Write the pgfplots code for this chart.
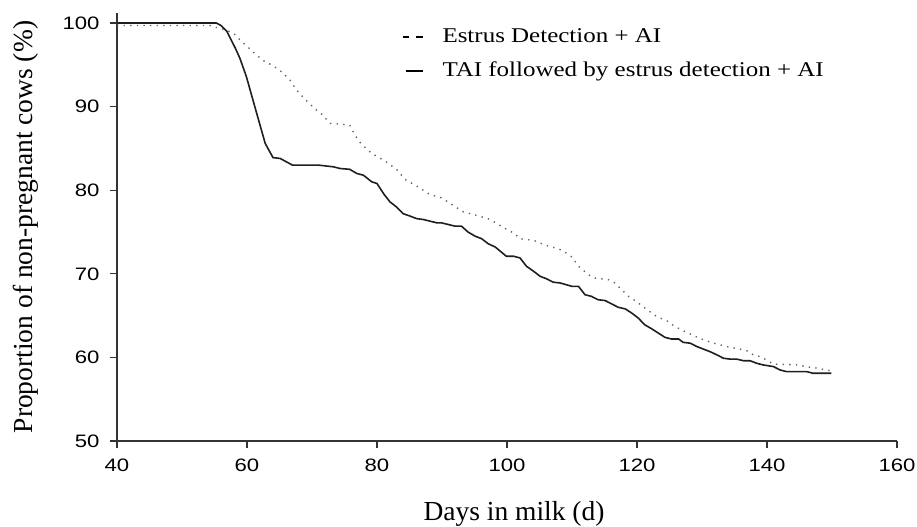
\documentclass[border=0pt]{standalone}
\usepackage{fontspec}
\setmainfont{Liberation Serif}
\newfontfamily\tickfont[FakeStretch=1.23]{Liberation Sans}
\newfontfamily\legfont[FakeStretch=1.19]{Liberation Serif}
\usepackage{pgfplots}
\pgfplotsset{compat=1.18}
\begin{document}
\begin{tikzpicture}
\path[use as bounding box] (-117bp,-86bp) rectangle (800bp,441bp);
\begin{axis}[
  scale only axis, width=780bp, height=428bp,
  xmin=40, xmax=160, ymin=50, ymax=101.2,
  xtick={40,60,...,160}, ytick={50,60,...,100},
  axis x line=bottom, axis y line=left,
  axis line style={-, line width=1.3bp, black!80},
  tick style={line width=1.3bp, black!80},
  tick align=outside, major tick length=7bp,
  /pgf/number format/assume math mode=true,
  ticklabel style={font=\tickfont\fontsize{18bp}{20bp}\selectfont, text=black},
  xticklabel style={yshift=-7bp},
  yticklabel style={xshift=-7bp},
  xlabel={Days in milk (d)},
  ylabel={Proportion of non-pregnant cows (\%)},
  label style={font=\fontsize{27.5bp}{33bp}\selectfont},
  xlabel style={at={(axis description cs:0.509,-0.1846)}, anchor=base},
  ylabel style={at={(axis description cs:-0.1077,0.5)}, anchor=base},
  legend cell align=left,
  legend style={at={(axis description cs:0.365,0.967)}, anchor=north west,
    draw=none, fill=none, inner sep=0pt, outer sep=0pt,
    column sep=18.8bp, row sep=14bp,
    nodes={inner sep=0pt, text height=15bp, text depth=5bp},
    font=\legfont\fontsize{21bp}{25bp}\selectfont},
]
\addplot[black!60, line width=1.4bp, dash pattern=on 1.4bp off 5.2bp,
  legend image code/.code={\draw[black, line width=2bp, solid] (0bp,0bp) -- (6.6bp,0bp) (13.3bp,0bp) -- (20bp,0bp);}]
coordinates {
(40,99.7) (54.3,99.7) (55.1,99.5) (55.8,99.4) (56.9,99.1) (57.9,98.8) (58.9,98.0) (60.0,97.2) (61.0,96.5) (62.5,95.5) (64.0,94.9) (65.1,94.3) (66.6,93.2) (67.6,92.0) (68.9,90.9) (70.5,89.7) (71.5,89.1) (72.8,88.0) (75.8,87.8) (76.6,86.6) (77.6,85.5) (79.2,84.4) (81.2,83.5) (83.0,82.5) (84.3,81.3) (86.1,80.5) (88.1,79.5) (89.9,79.1) (91.5,78.3) (93.3,77.4) (95.3,77.0) (97.4,76.5) (99.3,75.6) (101.2,74.8) (102.0,74.2) (104.1,74.0) (106.0,73.4) (107.9,73.0) (108.9,72.6) (110.0,72.0) (111.0,70.9) (112.5,69.9) (113.5,69.5) (115.6,69.3) (116.6,68.9) (117.9,67.9) (118.7,67.3) (119.7,66.8) (121.4,65.8) (123.0,64.9) (124.8,64.3) (125.8,63.7) (127.9,62.9) (129.9,62.2) (131.8,61.7) (133.8,61.3) (135.8,61.0) (136.9,60.8) (137.9,60.3) (138.9,60.1) (139.9,59.7) (141.0,59.2) (144.8,59.1) (145.9,58.9) (147.9,58.7) (149.0,58.5) (150.0,58.4)
};
\addlegendentry{Estrus Detection + AI}
\addplot[black!88, line width=1.6bp,
  legend image code/.code={\path (0bp,0bp); \draw[black, line width=1.5bp] (3.3bp,0bp) -- (20bp,0bp);}]
coordinates {
(40,100) (55.3,100) (56.0,99.7) (56.9,99.0) (58.2,97.0) (58.9,95.8) (59.9,93.6) (61.2,90.0) (62.8,85.6) (64.0,83.9) (65.1,83.8) (67.0,83.0) (71.0,83.0) (73.3,82.8) (74.3,82.6) (75.8,82.5) (76.9,82.0) (77.9,81.8) (79.2,81.0) (80.0,80.8) (81.0,79.6) (82.0,78.6) (83.0,78.0) (84.0,77.2) (85.1,76.9) (86.1,76.6) (87.1,76.5) (89.2,76.1) (89.9,76.1) (92.0,75.7) (93.0,75.7) (94.0,75.0) (95.1,74.5) (96.1,74.2) (97.1,73.6) (98.2,73.2) (99.9,72.1) (101.0,72.1) (102.0,71.9) (103.0,70.9) (104.1,70.3) (105.1,69.7) (106.1,69.4) (107.1,69.0) (108.2,68.9) (110.0,68.5) (111.0,68.5) (112.0,67.5) (113.0,67.3) (114.0,66.9) (115.1,66.8) (116.1,66.4) (117.1,66.0) (118.2,65.8) (119.2,65.3) (120.2,64.7) (121.2,63.9) (122.3,63.4) (123.3,62.9) (124.3,62.4) (125.3,62.2) (126.4,62.2) (127.1,61.8) (128.2,61.7) (129.2,61.3) (130.2,61.0) (131.2,60.7) (132.3,60.3) (133.3,59.9) (134.3,59.8) (135.3,59.8) (136.4,59.6) (137.4,59.6) (138.4,59.3) (139.4,59.1) (141.0,58.9) (142.0,58.5) (143.0,58.3) (146.1,58.3) (147.1,58.1) (149.9,58.1)
};
\addlegendentry{TAI followed by estrus detection + AI}
\end{axis}
\end{tikzpicture}
\end{document}
